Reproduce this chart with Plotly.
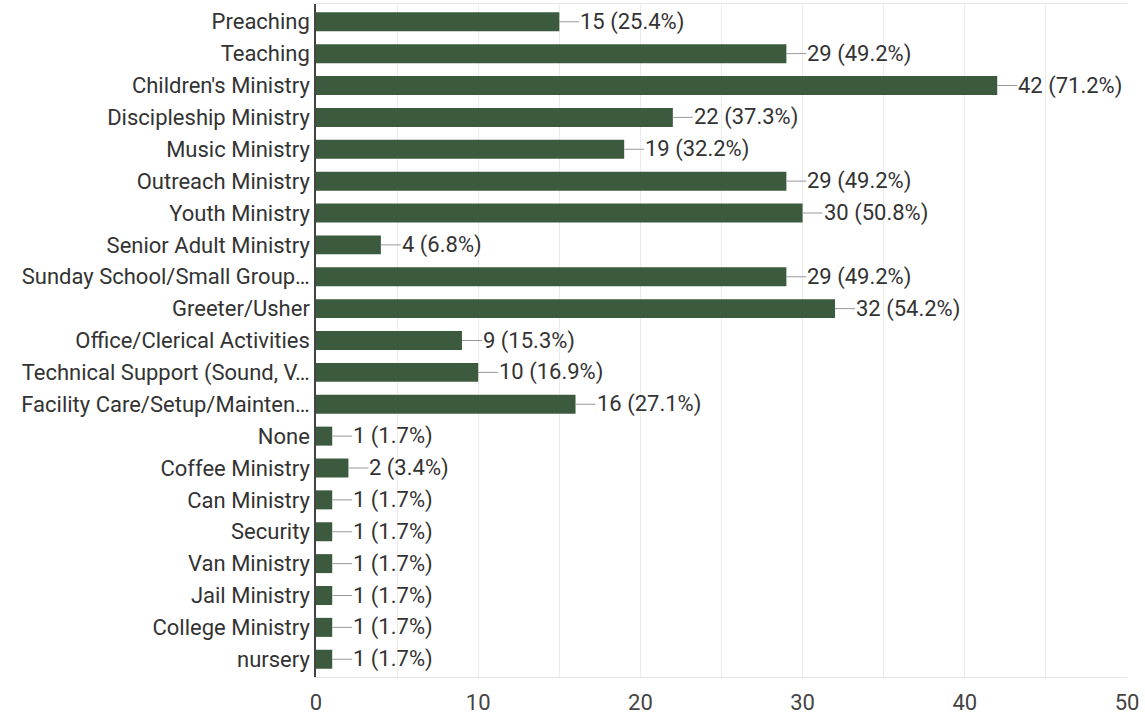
import plotly.graph_objects as go

categories = [
    "Preaching", "Teaching", "Children's Ministry", "Discipleship Ministry",
    "Music Ministry", "Outreach Ministry", "Youth Ministry", "Senior Adult Ministry",
    "Sunday School/Small Group…", "Greeter/Usher", "Office/Clerical Activities",
    "Technical Support (Sound, V…", "Facility Care/Setup/Mainten…", "None",
    "Coffee Ministry", "Can Ministry", "Security", "Van Ministry", "Jail Ministry",
    "College Ministry", "nursery",
]
counts = [15, 29, 42, 22, 19, 29, 30, 4, 29, 32, 9, 10, 16, 1, 2, 1, 1, 1, 1, 1, 1]
percents = ["25.4%", "49.2%", "71.2%", "37.3%", "32.2%", "49.2%", "50.8%", "6.8%",
            "49.2%", "54.2%", "15.3%", "16.9%", "27.1%", "1.7%", "3.4%", "1.7%",
            "1.7%", "1.7%", "1.7%", "1.7%", "1.7%"]
x_ticks = [0, 10, 20, 30, 40, 50]

FONT = "Roboto, Arial, sans-serif"
FS = 22

fig = go.Figure(go.Bar(
    x=counts, y=categories, orientation="h",
    marker=dict(color="#3c5a3e", line=dict(width=0)),
    hoverinfo="skip",
))

for c, v, p in zip(categories, counts, percents):
    fig.add_annotation(
        x=v, y=c, xref="x", yref="y",
        text=f"{v} ({p})", showarrow=True, arrowhead=0, arrowwidth=1,
        arrowcolor="#999999", ax=20, ay=0, xanchor="left",
        font=dict(family=FONT, size=FS, color="#333333"),
        borderpad=0,
    )

n = len(categories)
pad = 0.557

fig.update_layout(
    width=1145, height=719,
    margin=dict(l=316, r=18, t=4, b=42),
    paper_bgcolor="white", plot_bgcolor="white",
    bargap=0.404, showlegend=False,
    font=dict(family=FONT, size=FS, color="#333333"),
    xaxis=dict(
        range=[0, 50], tickvals=x_ticks, showgrid=True, gridcolor="#ebebeb",
        minor=dict(dtick=5, showgrid=True, gridcolor="#ebebeb"),
        zeroline=False, showline=True, mirror=True, linecolor="#e6e6e6",
        ticks="", tickfont=dict(size=FS, color="#444444"), ticklabelstandoff=6,
    ),
    yaxis=dict(
        range=[n - 1 + pad, -pad], showgrid=False, zeroline=False,
        showline=True, linecolor="#444444", linewidth=1.5, ticks="",
        tickfont=dict(size=FS, color="#333333"), ticklabelstandoff=0,
    ),
)

fig.write_html(
    "out.html",
    config={"displayModeBar": False},
    post_script="document.body.style.margin='0';document.body.style.padding='0';",
)
